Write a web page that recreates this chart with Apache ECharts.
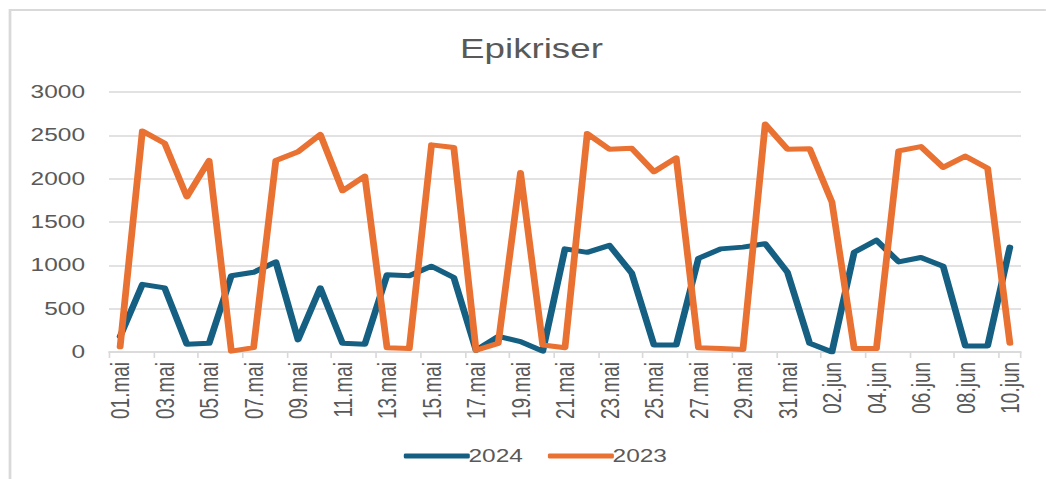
<!DOCTYPE html>
<html>
<head>
<meta charset="utf-8">
<script src="https://cdn.jsdelivr.net/npm/echarts@6/dist/echarts.min.js"></script>
<style>
html,body{margin:0;padding:0;background:#fff;overflow:hidden;}
#wrap{width:1046px;height:479px;overflow:hidden;}
#c{width:769px;height:479px;transform:scaleX(1.36);transform-origin:0 0;}
</style>
</head>
<body>
<div id="wrap"><div id="c"></div></div>
<script>
const categories = [
  "01.mai","02.mai","03.mai","04.mai","05.mai","06.mai","07.mai","08.mai","09.mai","10.mai",
  "11.mai","12.mai","13.mai","14.mai","15.mai","16.mai","17.mai","18.mai","19.mai","20.mai",
  "21.mai","22.mai","23.mai","24.mai","25.mai","26.mai","27.mai","28.mai","29.mai","30.mai",
  "31.mai","01.jun","02.jun","03.jun","04.jun","05.jun","06.jun","07.jun","08.jun","09.jun","10.jun"
];
const values2024 = [
  180, 780, 740, 90, 100, 880, 920, 1040, 140, 740,
  100, 90, 890, 880, 990, 860, 20, 180, 120, 10,
  1190, 1150, 1230, 910, 80, 80, 1080, 1190, 1210, 1250,
  920, 100, 0, 1150, 1290, 1040, 1090, 990, 70, 70, 1210
];
const values2023 = [
  60, 2550, 2410, 1790, 2210, 10, 50, 2210, 2310, 2510,
  1860, 2030, 50, 40, 2390, 2360, 20, 100, 2070, 80,
  50, 2520, 2340, 2350, 2080, 2240, 50, 40, 30, 2630,
  2340, 2345, 1730, 40, 40, 2320, 2370, 2130, 2260, 2120, 100
];
const yTicks = { min: 0, max: 3000, interval: 500 };
const seriesNames = ["2024", "2023"];

const S = 1.36; // horizontal stretch of the reference rendering
const px = v => v / S;

const chart = echarts.init(document.getElementById('c'), null, {renderer: 'svg'});
const textColor = '#595959';
const font = 'Liberation Sans, Arial, sans-serif';
chart.setOption({
  animation: false,
  backgroundColor: '#ffffff',
  title: {
    text: 'Epikriser',
    left: px(524) - 52,
    top: 30,
    textStyle: { color: textColor, fontSize: 27, fontWeight: 'normal', fontFamily: font }
  },
  legend: {
    data: seriesNames,
    left: px(397),
    top: 442,
    itemWidth: px(66),
    itemHeight: 5,
    itemGap: px(25),
    icon: 'roundRect',
    textStyle: { color: textColor, fontSize: 18, fontFamily: font, padding: [0, 0, 0, -6] }
  },
  grid: { left: px(109), top: 92, width: px(912), height: 260, containLabel: false },
  xAxis: {
    type: 'category',
    data: categories,
    boundaryGap: true,
    axisLine: { lineStyle: { color: '#d9d9d9', width: 1.5 } },
    axisTick: { show: true, interval: 1, length: 6, lineStyle: { color: '#d9d9d9', width: 1.2 } },
    axisLabel: { interval: 1, rotate: 90, color: textColor, fontSize: 19, fontFamily: font, margin: 10 }
  },
  yAxis: {
    type: 'value',
    min: yTicks.min,
    max: yTicks.max,
    interval: yTicks.interval,
    axisLine: { show: false },
    axisTick: { show: false },
    splitLine: { lineStyle: { color: '#d9d9d9', width: 1.5 } },
    axisLabel: { color: textColor, fontSize: 18, fontFamily: font, margin: px(24),
                 formatter: v => String(v) }
  },
  series: [
    {
      name: seriesNames[0], type: 'line', data: values2024, symbol: 'none',
      color: '#156082',
      lineStyle: { width: 5, color: '#156082', cap: 'round', join: 'round' }
    },
    {
      name: seriesNames[1], type: 'line', data: values2023, symbol: 'none',
      color: '#E97132',
      lineStyle: { width: 5, color: '#E97132', cap: 'round', join: 'round' }
    }
  ],
  graphic: [{
    type: 'rect', silent: true, z: -1,
    shape: { x: px(10), y: 10, width: 1000, height: 600 },
    style: { fill: null, stroke: '#d9d9d9', lineWidth: 2 }
  }]
});
</script>
</body>
</html>
